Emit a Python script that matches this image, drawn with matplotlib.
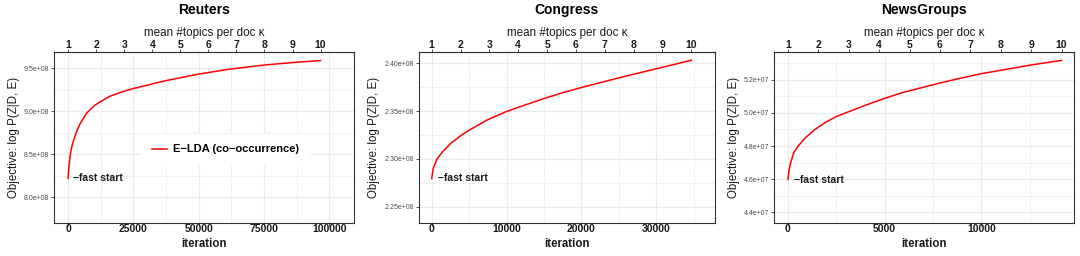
import matplotlib
matplotlib.use('Agg')
import matplotlib.pyplot as plt
from matplotlib.ticker import MultipleLocator, FuncFormatter

plt.rcParams['font.family'] = ['Liberation Sans', 'DejaVu Sans']

# Data
titles = ['Reuters', 'Congress', 'NewsGroups']
series_label = 'E\u2212LDA (co\u2212occurrence)'
kappa_ticks = [1, 2, 3, 4, 5, 6, 7, 8, 9, 10]

reuters_iter = [0, 200, 765, 1500, 3060, 4500, 7150, 10000, 12250, 16000, 20540, 25000,
                37500, 50000, 62500, 75000, 87500, 96700]
reuters_obj = [8.22e8, 8.32e8, 8.48e8, 8.60e8, 8.75e8, 8.85e8, 8.98e8, 9.065e8, 9.11e8,
               9.175e8, 9.225e8, 9.265e8, 9.357e8, 9.433e8, 9.493e8, 9.538e8, 9.571e8, 9.59e8]

congress_iter = [0, 200, 700, 1500, 2500, 4000, 5000, 7500, 10000, 12500, 15000, 17500,
                 20000, 25000, 30000, 34700]
congress_obj = [2.2797e8, 2.2900e8, 2.3000e8, 2.3080e8, 2.3160e8, 2.3250e8, 2.3300e8,
                2.3410e8, 2.3495e8, 2.3563e8, 2.3630e8, 2.3690e8, 2.3745e8, 2.3845e8,
                2.3940e8, 2.4029e8]

news_iter = [0, 50, 140, 300, 530, 900, 1400, 1900, 2500, 3290, 4000, 5000, 6000, 7500,
             8750, 10000, 11250, 12500, 14150]
news_obj = [4.598e7, 4.650e7, 4.700e7, 4.760e7, 4.800e7, 4.850e7, 4.900e7, 4.940e7,
            4.978e7, 5.014e7, 5.046e7, 5.088e7, 5.125e7, 5.170e7, 5.205e7, 5.237e7,
            5.262e7, 5.288e7, 5.317e7]

iters = [reuters_iter, congress_iter, news_iter]
objs = [reuters_obj, congress_obj, news_obj]

# layout / axis settings per panel
lefts = [54, 418.7, 774.3]
rights = [354, 715, 1074]
xlims = [(-5400, 109500), (-1740, 37870), (-707, 14793)]
ylims = [(7.70e8, 9.69e8), (2.2333e8, 2.4115e8), (4.3354e7, 5.3677e7)]
xmaj = [25000, 10000, 5000]
ymaj = [0.5e8, 0.05e8, 0.2e7]
yfmt = ['{:.1e}', '{:.2e}', '{:.1e}']
note_off = [3.5, 4.5, 4.0]

W, H = 1080, 256
fig = plt.figure(figsize=(W / 100, H / 100), dpi=100)

dark = '#333333'
grid_c = '#ebebeb'
bottom_px, top_px = 223, 52

for i in range(3):
    ax = fig.add_axes([lefts[i] / W, 1 - bottom_px / H,
                       (rights[i] - lefts[i]) / W, (bottom_px - top_px) / H])
    ax.plot(iters[i], objs[i], color='red', lw=1.1, label=series_label, zorder=3)
    ax.set_xlim(*xlims[i])
    ax.set_ylim(*ylims[i])

    ax.xaxis.set_major_locator(MultipleLocator(xmaj[i]))
    ax.xaxis.set_minor_locator(MultipleLocator(xmaj[i] / 2))
    ax.yaxis.set_major_locator(MultipleLocator(ymaj[i]))
    ax.yaxis.set_minor_locator(MultipleLocator(ymaj[i] / 2))
    ax.yaxis.set_major_formatter(FuncFormatter(lambda v, p, f=yfmt[i]: f.format(v)))
    ax.xaxis.set_major_formatter(FuncFormatter(lambda v, p: '{:d}'.format(int(round(v)))))

    ax.grid(which='major', color=grid_c, lw=0.8, zorder=0)
    ax.grid(which='minor', color=grid_c, lw=0.5, zorder=0)
    ax.set_axisbelow(True)
    ax.tick_params(which='minor', length=0)
    ax.tick_params(axis='x', which='major', length=2.2, width=0.6, color=dark,
                   labelsize=7.5, pad=-1.2, labelcolor='#1a1a1a')
    ax.tick_params(axis='y', which='major', length=2.2, width=0.6, color=dark,
                   labelsize=5, pad=1.2, labelcolor='#4d4d4d')
    for lab in ax.get_xticklabels():
        lab.set_fontweight('bold')
    for s in ax.spines.values():
        s.set_color(dark)
        s.set_linewidth(0.8)

    ax.set_xlabel('iteration', fontsize=8.3, fontweight='bold', labelpad=2.5, color='#1a1a1a')
    ax.set_ylabel('Objective: log P(Z|D, E)', fontsize=8.3, labelpad=3, color='#1a1a1a')

    xend = iters[i][-1]
    sec = ax.secondary_xaxis('top',
                             functions=(lambda x, e=xend: 1 + x * 9.0 / e,
                                        lambda k, e=xend: (k - 1) * e / 9.0))
    sec.set_xticks(kappa_ticks)
    sec.tick_params(length=2.2, width=0.6, color=dark, labelsize=7.5, pad=-1.0,
                    labelcolor='#1a1a1a')
    for lab in sec.get_xticklabels():
        lab.set_fontweight('bold')
    sec.spines['top'].set_color(dark)
    sec.set_xlabel('mean #topics per doc \u03ba', fontsize=8.4, labelpad=3, color='#1a1a1a')

    fig.text((lefts[i] + rights[i]) / 2 / W, 1 - 10 / H, titles[i], ha='center', va='center',
             fontsize=10, fontweight='bold', color='black')

    ax.annotate('\u2212fast start', xy=(iters[i][0], objs[i][0]),
                xytext=(note_off[i], 0), textcoords='offset points',
                ha='left', va='center', fontsize=7.5, fontweight='bold', color='#1a1a1a')

    if i == 0:
        leg = ax.legend(loc='center', bbox_to_anchor=(0.573, 0.43), frameon=True,
                        fancybox=False, edgecolor='white', facecolor='white', framealpha=1,
                        prop={'size': 8, 'weight': 'bold'}, handlelength=1.3,
                        handletextpad=0.6, borderpad=0.9, borderaxespad=0)

fig.savefig('out.png', dpi=100)
